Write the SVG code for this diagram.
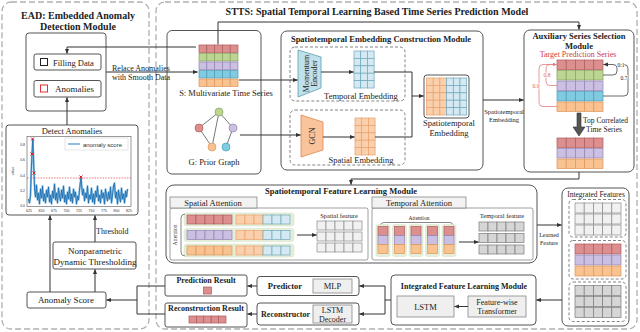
<svg xmlns="http://www.w3.org/2000/svg" width="640" height="332" viewBox="0 0 640 332">
<style>
.t{font-family:"Liberation Serif","Times New Roman",serif;fill:#222;}
.s{font-family:"Liberation Sans",Arial,sans-serif;fill:#333;}
.b{font-weight:bold;}
.m{text-anchor:middle;}
.box{fill:#fff;stroke:#555;stroke-width:1;}
.gbox{fill:#efefef;stroke:#888;stroke-width:0.8;}
.dash{fill:none;stroke:#b0b0b0;stroke-width:1.3;stroke-dasharray:6 3;}
.idash{fill:none;stroke:#777;stroke-width:0.9;stroke-dasharray:3 2;}
.ln{fill:none;stroke:#333;stroke-width:1;}
.arr{marker-end:url(#ah);}
.cr{fill:#dc8f8f;stroke:#b05a5a;stroke-width:0.7;}
.cg{fill:#bcd592;stroke:#86a35a;stroke-width:0.7;}
.cp{fill:#cbbfe2;stroke:#9283b5;stroke-width:0.7;}
.cb{fill:#80cbe2;stroke:#4c9cb5;stroke-width:0.7;}
.co{fill:#f9c291;stroke:#e0955a;stroke-width:0.7;}
.clb{fill:#d4e9f1;stroke:#6fa7bb;stroke-width:0.7;}
.clo{fill:#fad0ac;stroke:#eba06a;stroke-width:0.7;}
.cw{fill:#f1f1f1;stroke:#8a8a8a;stroke-width:0.7;}
.cd{fill:#d6d6d6;stroke:#7a7a7a;stroke-width:0.7;}
.bg{fill:#e4efd9;stroke:#d0dfc2;stroke-width:0.5;}
</style>
<defs>
<marker id="ah" viewBox="0 0 10 10" refX="9" refY="5" markerWidth="5" markerHeight="5" markerUnits="userSpaceOnUse" orient="auto"><path d="M0,1 L10,5 L0,9 z" fill="#333"/></marker>
<marker id="ahr" viewBox="0 0 10 10" refX="9" refY="5" markerWidth="4" markerHeight="4" markerUnits="userSpaceOnUse" orient="auto"><path d="M0,1 L10,5 L0,9 z" fill="#e08080"/></marker>
<g id="r5a"><rect x="0" y="0" width="7.8" height="7.5"/><rect x="7.8" y="0" width="7.8" height="7.5"/><rect x="15.6" y="0" width="7.8" height="7.5"/><rect x="23.4" y="0" width="7.8" height="7.5"/><rect x="31.2" y="0" width="7.8" height="7.5"/></g>
<g id="r5b"><rect x="0" y="0" width="9.2" height="9.5"/><rect x="9.2" y="0" width="9.2" height="9.5"/><rect x="18.4" y="0" width="9.2" height="9.5"/><rect x="27.6" y="0" width="9.2" height="9.5"/><rect x="36.8" y="0" width="9.2" height="9.5"/></g>
<g id="r5i"><rect x="0" y="0" width="9.2" height="10"/><rect x="9.2" y="0" width="9.2" height="10"/><rect x="18.4" y="0" width="9.2" height="10"/><rect x="27.6" y="0" width="9.2" height="10"/><rect x="36.8" y="0" width="9.2" height="10"/></g>
<g id="r5c"><rect x="0" y="0" width="9" height="9"/><rect x="9" y="0" width="9" height="9"/><rect x="18" y="0" width="9" height="9"/><rect x="27" y="0" width="9" height="9"/><rect x="36" y="0" width="9" height="9"/></g>
<g id="r3c"><rect x="0" y="0" width="9" height="9"/><rect x="9" y="0" width="9" height="9"/><rect x="18" y="0" width="9" height="9"/></g>
<g id="r3e"><rect x="0" y="0" width="6.7" height="7.4"/><rect x="6.7" y="0" width="6.7" height="7.4"/><rect x="13.4" y="0" width="6.7" height="7.4"/></g>
<g id="m35"><use href="#r3e" y="0"/><use href="#r3e" y="7.4"/><use href="#r3e" y="14.8"/><use href="#r3e" y="22.2"/><use href="#r3e" y="29.6"/></g>
<g id="r5d"><rect x="0" y="0" width="7.4" height="7"/><rect x="7.4" y="0" width="7.4" height="7"/><rect x="14.8" y="0" width="7.4" height="7"/><rect x="22.2" y="0" width="7.4" height="7"/><rect x="29.6" y="0" width="7.4" height="7"/></g>
</defs>
<rect width="640" height="332" fill="#fff"/>

<!-- EAD module -->
<g id="ead">
<rect class="dash" x="2" y="2" width="147" height="327" rx="9"/>
<text class="t b m" x="78" y="18.5" font-size="10">EAD: Embedded Anomaly</text>
<text class="t b m" x="78" y="30" font-size="10">Detection Module</text>
<rect class="box" x="26" y="33" width="80" height="78" rx="3"/>
</g>
<g id="filling-data">
<rect class="box" x="34" y="54" width="67" height="16" rx="2"/>
<rect x="40.5" y="58.5" width="7" height="7" fill="#fff" stroke="#222" stroke-width="1"/>
<text class="t" x="53" y="65.5" font-size="8.5">Filling Data</text>
</g>
<g id="anomalies">
<rect class="box" x="34" y="80.5" width="67" height="16.5" rx="2"/>
<rect x="40.5" y="85" width="7" height="7" fill="#fff" stroke="#e03030" stroke-width="1"/>
<text class="t" x="55" y="92" font-size="9">Anomalies</text>
</g>
<g id="detect-anomalies">
<rect class="box" x="6" y="125" width="132" height="90" rx="3"/>
<text class="t m" x="72" y="134" font-size="8.5">Detect Anomalies</text>
<rect x="27" y="136.5" width="104" height="70" fill="none" stroke="#555" stroke-width="0.6"/>
<line x1="27" y1="178" x2="131" y2="178" stroke="#e04040" stroke-width="0.7" stroke-dasharray="1.5 1.2"/>
<polyline fill="none" stroke="#8cc0e4" stroke-width="2" stroke-linejoin="round" points="28.5,199 29.5,203 30.5,195 31.3,170 32,154 32.8,139 33.5,158 34,173 34.7,190 35.5,197 36.5,185 37.5,200 38.5,193 39.5,204 40.5,189 41.5,198 42.5,186 43.5,201 44.5,194 45.5,203 46.5,190 47.5,197 48.5,187 49.5,202 50.5,195 51.5,204 52.5,191 53.5,198 54.5,184 55.5,200 56.5,193 57.5,203 58.5,188 59.5,196 60.5,201 61.5,190 62.5,198 63.5,186 64.5,202 65.5,195 66.5,204 67.5,192 68.5,199 69.5,187 70.5,201 71.5,194 72.5,203 73.5,189 74.5,197 75.5,192 76.5,204 77.5,196 78.5,200 79.5,190 80.3,183 81,177 81.7,186 82.5,195 83.5,189 84.5,201 85.5,193 86.5,198 87.5,186 88.5,203 89.5,195 90.5,199 91.5,188 92.5,202 93.5,194 94.5,204 95.5,191 96.5,197 97.5,186 98.5,201 99.5,195 100.5,203 101.5,190 102.5,198 103.5,193 104.5,204 105.5,189 106.5,196 107.5,201 108.5,192 109.5,199 110.5,187 111.5,203 112.5,195 113.5,186 114.5,183 115.5,198 116.5,192 117.5,204 118.5,190 119.5,197 120.5,202 121.5,188 122.5,199 123.5,194 124.5,203 125.5,191 126.5,197 127.5,189"/>
<polyline fill="none" stroke="#1f6fb0" stroke-width="0.9" stroke-linejoin="round" points="28.5,199 29.5,203 30.5,195 31.3,170 32,154 32.8,139 33.5,158 34,173 34.7,190 35.5,197 36.5,185 37.5,200 38.5,193 39.5,204 40.5,189 41.5,198 42.5,186 43.5,201 44.5,194 45.5,203 46.5,190 47.5,197 48.5,187 49.5,202 50.5,195 51.5,204 52.5,191 53.5,198 54.5,184 55.5,200 56.5,193 57.5,203 58.5,188 59.5,196 60.5,201 61.5,190 62.5,198 63.5,186 64.5,202 65.5,195 66.5,204 67.5,192 68.5,199 69.5,187 70.5,201 71.5,194 72.5,203 73.5,189 74.5,197 75.5,192 76.5,204 77.5,196 78.5,200 79.5,190 80.3,183 81,177 81.7,186 82.5,195 83.5,189 84.5,201 85.5,193 86.5,198 87.5,186 88.5,203 89.5,195 90.5,199 91.5,188 92.5,202 93.5,194 94.5,204 95.5,191 96.5,197 97.5,186 98.5,201 99.5,195 100.5,203 101.5,190 102.5,198 103.5,193 104.5,204 105.5,189 106.5,196 107.5,201 108.5,192 109.5,199 110.5,187 111.5,203 112.5,195 113.5,186 114.5,183 115.5,198 116.5,192 117.5,204 118.5,190 119.5,197 120.5,202 121.5,188 122.5,199 123.5,194 124.5,203 125.5,191 126.5,197 127.5,189"/>
<g stroke="#e02020" stroke-width="1">
<path d="M31,137.5 l3,3 m0,-3 l-3,3"/><path d="M30.5,152.5 l3,3 m0,-3 l-3,3"/><path d="M32.5,171.5 l3,3 m0,-3 l-3,3"/><path d="M79.5,175.5 l3,3 m0,-3 l-3,3"/>
</g>
<rect x="65" y="138" width="63" height="12" fill="#fff" stroke="#ccc" stroke-width="0.5"/>
<line x1="68" y1="144" x2="80" y2="144" stroke="#6aaad6" stroke-width="1.5"/>
<text class="s" x="83" y="146.5" font-size="6">anomaly score</text>
<g class="s" font-size="3.5" text-anchor="end">
<text x="25" y="146">0.8</text><text x="25" y="161">0.6</text><text x="25" y="177">0.4</text><text x="25" y="192">0.2</text><text x="25" y="207">0.0</text>
</g>
<text class="s m" font-size="3.5" transform="translate(14,171) rotate(-90)">value</text>
<g class="s m" font-size="3.5">
<text x="29" y="211.5">625</text><text x="41.5" y="211.5">650</text><text x="54" y="211.5">675</text><text x="66.5" y="211.5">700</text><text x="79" y="211.5">725</text><text x="91.5" y="211.5">750</text><text x="104" y="211.5">775</text><text x="116.5" y="211.5">800</text><text x="129" y="211.5">825</text>
</g>
</g>
<g id="nonparametric">
<rect class="box" x="53" y="242" width="83" height="27" rx="2"/>
<text class="t m" x="95" y="254" font-size="9">Nonparametric</text>
<text class="t m" x="95" y="264.5" font-size="9">Dynamic Thresholding</text>
</g>
<g id="anomaly-score">
<rect class="box" x="27" y="292" width="79" height="16" rx="2"/>
<text class="t m" x="66" y="303" font-size="9">Anomaly Score</text>
</g>

<!-- STTS -->
<g id="stts">
<rect class="dash" x="156" y="2" width="481" height="327" rx="9"/>
<text class="t b m" x="377" y="14.5" font-size="10">STTS: Spatial Temporal Learning Based Time Series Prediction Model</text>
</g>
<g id="inputs">
<rect class="box" x="167" y="30.5" width="94" height="143.5" rx="5"/>
<use href="#r5a" x="199" y="45" class="cr"/>
<use href="#r5a" x="199" y="53.5" class="cg"/>
<use href="#r5a" x="199" y="62" class="cp"/>
<use href="#r5a" x="199" y="70.5" class="cb"/>
<use href="#r5a" x="199" y="79" class="co"/>
<text class="t m" x="226" y="96" font-size="8.5">S: Multivariate Time Series</text>
<g stroke="#555" stroke-width="0.8">
<line x1="219" y1="112" x2="199" y2="128"/><line x1="219" y1="112" x2="233" y2="128"/><line x1="219" y1="112" x2="212" y2="147"/><line x1="199" y1="128" x2="212" y2="147"/><line x1="233" y1="128" x2="226" y2="147"/>
</g>
<circle cx="219" cy="112" r="4" class="cg"/>
<circle cx="199" cy="128" r="4" class="cr"/>
<circle cx="233" cy="128" r="4" class="cp"/>
<circle cx="212" cy="147" r="4" class="co"/>
<circle cx="226" cy="147" r="4" class="cb"/>
<text class="t m" x="214" y="165" font-size="8.5">G: Prior Graph</text>
</g>
<g id="embedding-construction">
<rect class="box" x="281" y="31" width="202" height="139" rx="6"/>
<text class="t b m" x="381" y="41.5" font-size="8.5">Spatiotemporal Embedding Construction Module</text>
<rect class="idash" x="290" y="47" width="115" height="54" rx="5"/>
<rect class="idash" x="290" y="110" width="115" height="55" rx="5"/>
</g>
<g id="momentum-encoder">
<polygon points="298,50 321,57 321,88 298,97" fill="#bfe1ec" stroke="#5d9db3" stroke-width="0.8"/>
<g transform="translate(309.5,73.5) rotate(-90)"><text class="t m" x="0" y="-1" font-size="8">Momentum</text><text class="t m" x="0" y="7" font-size="8">Encoder</text></g>
</g>
<g id="temporal-embedding">
<use href="#m35" x="354" y="51" class="clb"/>
<text class="t m" x="361" y="99" font-size="8.5">Temporal Embedding</text>
</g>
<g id="gcn">
<polygon points="301,115 323,122 323,150 301,157" fill="#f9c49b" stroke="#e0884a" stroke-width="0.8"/>
<text class="t m" font-size="8" transform="translate(312,136) rotate(-90)" y="3">GCN</text>
</g>
<g id="spatial-embedding">
<use href="#m35" x="355" y="118" class="clo"/>
<text class="t m" x="361" y="162.5" font-size="8.5">Spatial Embedding</text>
</g>
<g id="spatiotemporal-embedding">
<rect class="box" x="424" y="75" width="45" height="43" rx="3"/>
<use href="#m35" x="426.5" y="78" class="clo"/>
<use href="#m35" x="446.6" y="78" class="clb"/>
<text class="t m" x="449" y="126" font-size="8.5">Spatiotemporal</text>
<text class="t m" x="449" y="136" font-size="8.5">Embedding</text>
</g>
<g id="auxiliary-selection">
<rect class="box" x="524" y="30" width="110" height="142" rx="6"/>
<text class="t b m" x="579" y="38.5" font-size="8.5">Auxiliary Series Selection</text>
<text class="t b m" x="579" y="48.5" font-size="8.5">Module</text>
<text class="t m" x="578" y="56.5" font-size="8" fill="#d03a3a" style="fill:#d03a3a">Target Prediction Series</text>
<use href="#r5b" x="557" y="60" class="cr"/>
<use href="#r5b" x="557" y="70.5" class="cg"/>
<use href="#r5b" x="557" y="81" class="cp"/>
<use href="#r5b" x="557" y="91.5" class="cb"/>
<use href="#r5b" x="557" y="102" class="co"/>
<path d="M557,85.5 H550 Q546,85.5 546,81.5 V68 Q546,64.5 550,64.5 H556.5" fill="none" stroke="#e08080" stroke-width="0.8" marker-end="url(#ahr)"/>
<path d="M557,106.5 H543 Q539,106.5 539,102.5 V68.5 Q539,64.5 543,64.5 H556.5" fill="none" stroke="#e08080" stroke-width="0.8" marker-end="url(#ahr)"/>
<path d="M603,75 H613 Q617,75 617,71 V68 Q617,64.5 613,64.5 H603.5" fill="none" stroke="#444" stroke-width="0.8" marker-end="url(#ah)"/>
<path d="M603,96 H624 Q628,96 628,92 V68.5 Q628,64.5 624,64.5 H617" fill="none" stroke="#444" stroke-width="0.8"/>
<g class="t m" font-size="5.5">
<text x="547" y="77" style="fill:#d86060;stroke:#fff;stroke-width:1.5;paint-order:stroke">0.8</text>
<text x="536" y="88" style="fill:#d86060;stroke:#fff;stroke-width:1.5;paint-order:stroke">0.9</text>
<text x="621" y="67" style="stroke:#fff;stroke-width:1.5;paint-order:stroke">0.1</text>
<text x="624" y="80" style="stroke:#fff;stroke-width:1.5;paint-order:stroke">0.7</text>
</g>
<polygon points="577,113 581,113 581,127 585,127 579,136 573,127 577,127" fill="#555" stroke="#333" stroke-width="0.6"/>
<text class="t" x="583" y="123" font-size="7.5">Top Correlated</text>
<text class="t m" x="604" y="132" font-size="7.5">Time Series</text>
<use href="#r5b" x="557" y="138" class="cr"/>
<use href="#r5b" x="557" y="148.5" class="cp"/>
<use href="#r5b" x="557" y="159" class="co"/>
</g>
<g id="feature-learning">
<rect class="box" x="166" y="185" width="371" height="78" rx="8"/>
<text class="t b m" x="341" y="194" font-size="8.5">Spatiotemporal Feature Learning Module</text>
</g>
<g id="spatial-attention">
<rect x="170" y="208" width="198" height="52" rx="2" fill="none" stroke="#888" stroke-width="0.8"/>
<rect x="170" y="197" width="87" height="11" fill="#f2f2f2" stroke="#888" stroke-width="0.8"/>
<text class="t m" x="213" y="205.5" font-size="8.5">Spatial Attention</text>
<rect class="bg" x="184" y="213" width="110" height="13" rx="3"/>
<rect class="bg" x="184" y="228.5" width="110" height="13" rx="3"/>
<rect class="bg" x="184" y="244" width="110" height="13" rx="3"/>
<use href="#r5c" x="187" y="215" class="cr"/><use href="#r3c" x="236" y="215" class="clo"/><use href="#r3c" x="263" y="215" class="clb"/>
<use href="#r5c" x="187" y="230.5" class="cp"/><use href="#r3c" x="236" y="230.5" class="clo"/><use href="#r3c" x="263" y="230.5" class="clb"/>
<use href="#r5c" x="187" y="246" class="co"/><use href="#r3c" x="236" y="246" class="clo"/><use href="#r3c" x="263" y="246" class="clb"/>
<path d="M185,214 Q181,214 181,218 V252 Q181,256 185,256" fill="none" stroke="#555" stroke-width="0.7"/>
<text class="t m" font-size="5.5" transform="translate(177,235) rotate(-90)">Attention</text>
<text class="t m" x="339" y="218" font-size="6.5">Spatial feature</text>
<use href="#r5c" x="317" y="221" class="cw"/>
<use href="#r5c" x="317" y="232" class="cw"/>
<use href="#r5c" x="317" y="243" class="cw"/>
</g>
<g id="temporal-attention">
<rect x="372" y="208" width="161" height="52" rx="2" fill="none" stroke="#888" stroke-width="0.8"/>
<rect x="372" y="197" width="94" height="11" fill="#f2f2f2" stroke="#888" stroke-width="0.8"/>
<text class="t m" x="419" y="205.5" font-size="8.5">Temporal Attention</text>
<text class="t m" x="419" y="220" font-size="5.5">Attention</text>
<path d="M380,227 Q380,222.5 384.5,222.5 H449 Q453.5,222.5 453.5,227" fill="none" stroke="#555" stroke-width="0.7"/>
<rect class="bg" x="376" y="224.5" width="14" height="32" rx="2"/><rect class="cr" x="378" y="226.5" width="10" height="9"/><rect class="cp" x="378" y="235.5" width="10" height="9"/><rect class="co" x="378" y="244.5" width="10" height="9"/>
<rect class="bg" x="392.5" y="224.5" width="14" height="32" rx="2"/><rect class="cr" x="394.5" y="226.5" width="10" height="9"/><rect class="cp" x="394.5" y="235.5" width="10" height="9"/><rect class="co" x="394.5" y="244.5" width="10" height="9"/>
<rect class="bg" x="409" y="224.5" width="14" height="32" rx="2"/><rect class="cr" x="411" y="226.5" width="10" height="9"/><rect class="cp" x="411" y="235.5" width="10" height="9"/><rect class="co" x="411" y="244.5" width="10" height="9"/>
<rect class="bg" x="425.5" y="224.5" width="14" height="32" rx="2"/><rect class="cr" x="427.5" y="226.5" width="10" height="9"/><rect class="cp" x="427.5" y="235.5" width="10" height="9"/><rect class="co" x="427.5" y="244.5" width="10" height="9"/>
<rect class="bg" x="442" y="224.5" width="14" height="32" rx="2"/><rect class="cr" x="444" y="226.5" width="10" height="9"/><rect class="cp" x="444" y="235.5" width="10" height="9"/><rect class="co" x="444" y="244.5" width="10" height="9"/>
<text class="t m" x="502" y="218" font-size="6.5">Temporal feature</text>
<use href="#r5c" x="479" y="222" class="cd"/>
<use href="#r5c" x="479" y="233.5" class="cd"/>
<use href="#r5c" x="479" y="245" class="cd"/>
</g>
<g id="integrated-features">
<rect class="box" x="562" y="188" width="67" height="138" rx="6"/>
<text class="t m" x="596" y="196.5" font-size="7.5">Integrated Features</text>
<rect class="idash" x="569" y="199.5" width="57" height="37.5" rx="4"/>
<rect class="idash" x="569" y="240.5" width="57" height="38.5" rx="4"/>
<rect class="idash" x="569" y="282" width="57" height="39.5" rx="4"/>
<use href="#r5i" x="575" y="203" class="cw"/><use href="#r5i" x="575" y="214" class="cw"/><use href="#r5i" x="575" y="225" class="cw"/>
<use href="#r5i" x="575" y="244" class="cr"/><use href="#r5i" x="575" y="255" class="cp"/><use href="#r5i" x="575" y="266" class="co"/>
<use href="#r5i" x="575" y="285.5" class="cd"/><use href="#r5i" x="575" y="296.5" class="cd"/><use href="#r5i" x="575" y="307.5" class="cd"/>
</g>
<g id="integrated-learning">
<rect class="box" x="391" y="275" width="145" height="50" rx="4"/>
<text class="t b m" x="464" y="288.5" font-size="8">Integrated Feature Learning Module</text>
<rect class="gbox" x="397" y="296" width="57" height="21"/>
<text class="t m" x="425.5" y="309.5" font-size="8.5">LSTM</text>
<rect class="gbox" x="468" y="296" width="58" height="21"/>
<text class="t m" x="497" y="304.5" font-size="8">Feature-wise</text>
<text class="t m" x="497" y="314" font-size="8">Transformer</text>
</g>
<g id="predictor">
<rect class="box" x="257" y="276.5" width="102" height="19" rx="3"/>
<text class="t b m" x="285" y="289" font-size="8.5">Predictor</text>
<rect class="gbox" x="313" y="279" width="39" height="14"/>
<text class="t m" x="332.5" y="289" font-size="8.5">MLP</text>
</g>
<g id="reconstructor">
<rect class="box" x="257" y="303" width="102" height="22" rx="3"/>
<text class="t b m" x="285.5" y="316.5" font-size="8">Reconstructor</text>
<rect class="gbox" x="313" y="305" width="39" height="18"/>
<text class="t m" x="332.5" y="312.5" font-size="8">LSTM</text>
<text class="t m" x="332.5" y="321.5" font-size="8">Decoder</text>
</g>
<g id="prediction-result">
<rect class="box" x="165" y="275" width="82" height="21" rx="2"/>
<text class="t b m" x="206" y="282.5" font-size="8">Prediction Result</text>
<rect class="cr" x="203.5" y="287" width="8" height="7"/>
</g>
<g id="reconstruction-result">
<rect class="box" x="165" y="303" width="82" height="24" rx="2"/>
<text class="t b m" x="206" y="311" font-size="8">Reconstruction Result</text>
<use href="#r5d" x="189" y="316" class="cr"/>
</g>

<g id="connectors">
<path class="ln arr" d="M196,47 H67 V53.5"/>
<path class="ln arr" d="M106,72 H197.5"/>
<text class="t m" x="141" y="70.5" font-size="8">Relace Anomalies</text>
<text class="t m" x="141" y="79.5" font-size="8">with Smooth Data</text>
<path class="ln arr" d="M67,125 V97.5"/>
<path class="ln arr" d="M50,292 V215.5"/>
<path class="ln arr" d="M95,242 V215.5"/>
<text class="t" x="96" y="234" font-size="8">Threshold</text>
<path class="ln arr" d="M95,292 V269.5"/>
<path class="ln" d="M165,286 H137 V314 H165"/>
<path class="ln arr" d="M137,300 H106.5"/>
<path class="ln arr" d="M218,44.5 V22 H579 V29.5"/>
<path class="ln arr" d="M239,80 H297.5"/>
<path class="ln arr" d="M240,135 H300.5"/>
<path class="ln arr" d="M321,72 H353.5"/>
<path class="ln arr" d="M323,137 H354.5"/>
<path class="ln" d="M374,72 H412 V137 H375"/>
<path class="ln arr" d="M412,96 H423.5"/>
<path class="ln arr" d="M483,100 H523.5"/>
<text class="t m" x="504" y="114" font-size="6.5">Spatiotemporal</text>
<text class="t m" x="504" y="122" font-size="6.5">Embedding</text>
<path class="ln arr" d="M579,172 V179 H351 V184.5"/>
<path class="ln arr" d="M297,235 H316.5"/>
<path class="ln arr" d="M459,242 H478.5"/>
<path class="ln arr" d="M537,225 H561.5"/>
<text class="t m" x="549" y="237" font-size="6">Learned</text>
<text class="t m" x="549" y="245" font-size="6">Feature</text>
<path class="ln arr" d="M562,300 H536.5"/>
<path class="ln arr" d="M468,306.5 H454.5"/>
<path class="ln" d="M391,300 H385 M385,286 V314"/>
<path class="ln arr" d="M385,286 H359.5"/>
<path class="ln arr" d="M385,314 H359.5"/>
<path class="ln arr" d="M257,286 H247.5"/>
<path class="ln arr" d="M257,314 H247.5"/>
</g>
</svg>
